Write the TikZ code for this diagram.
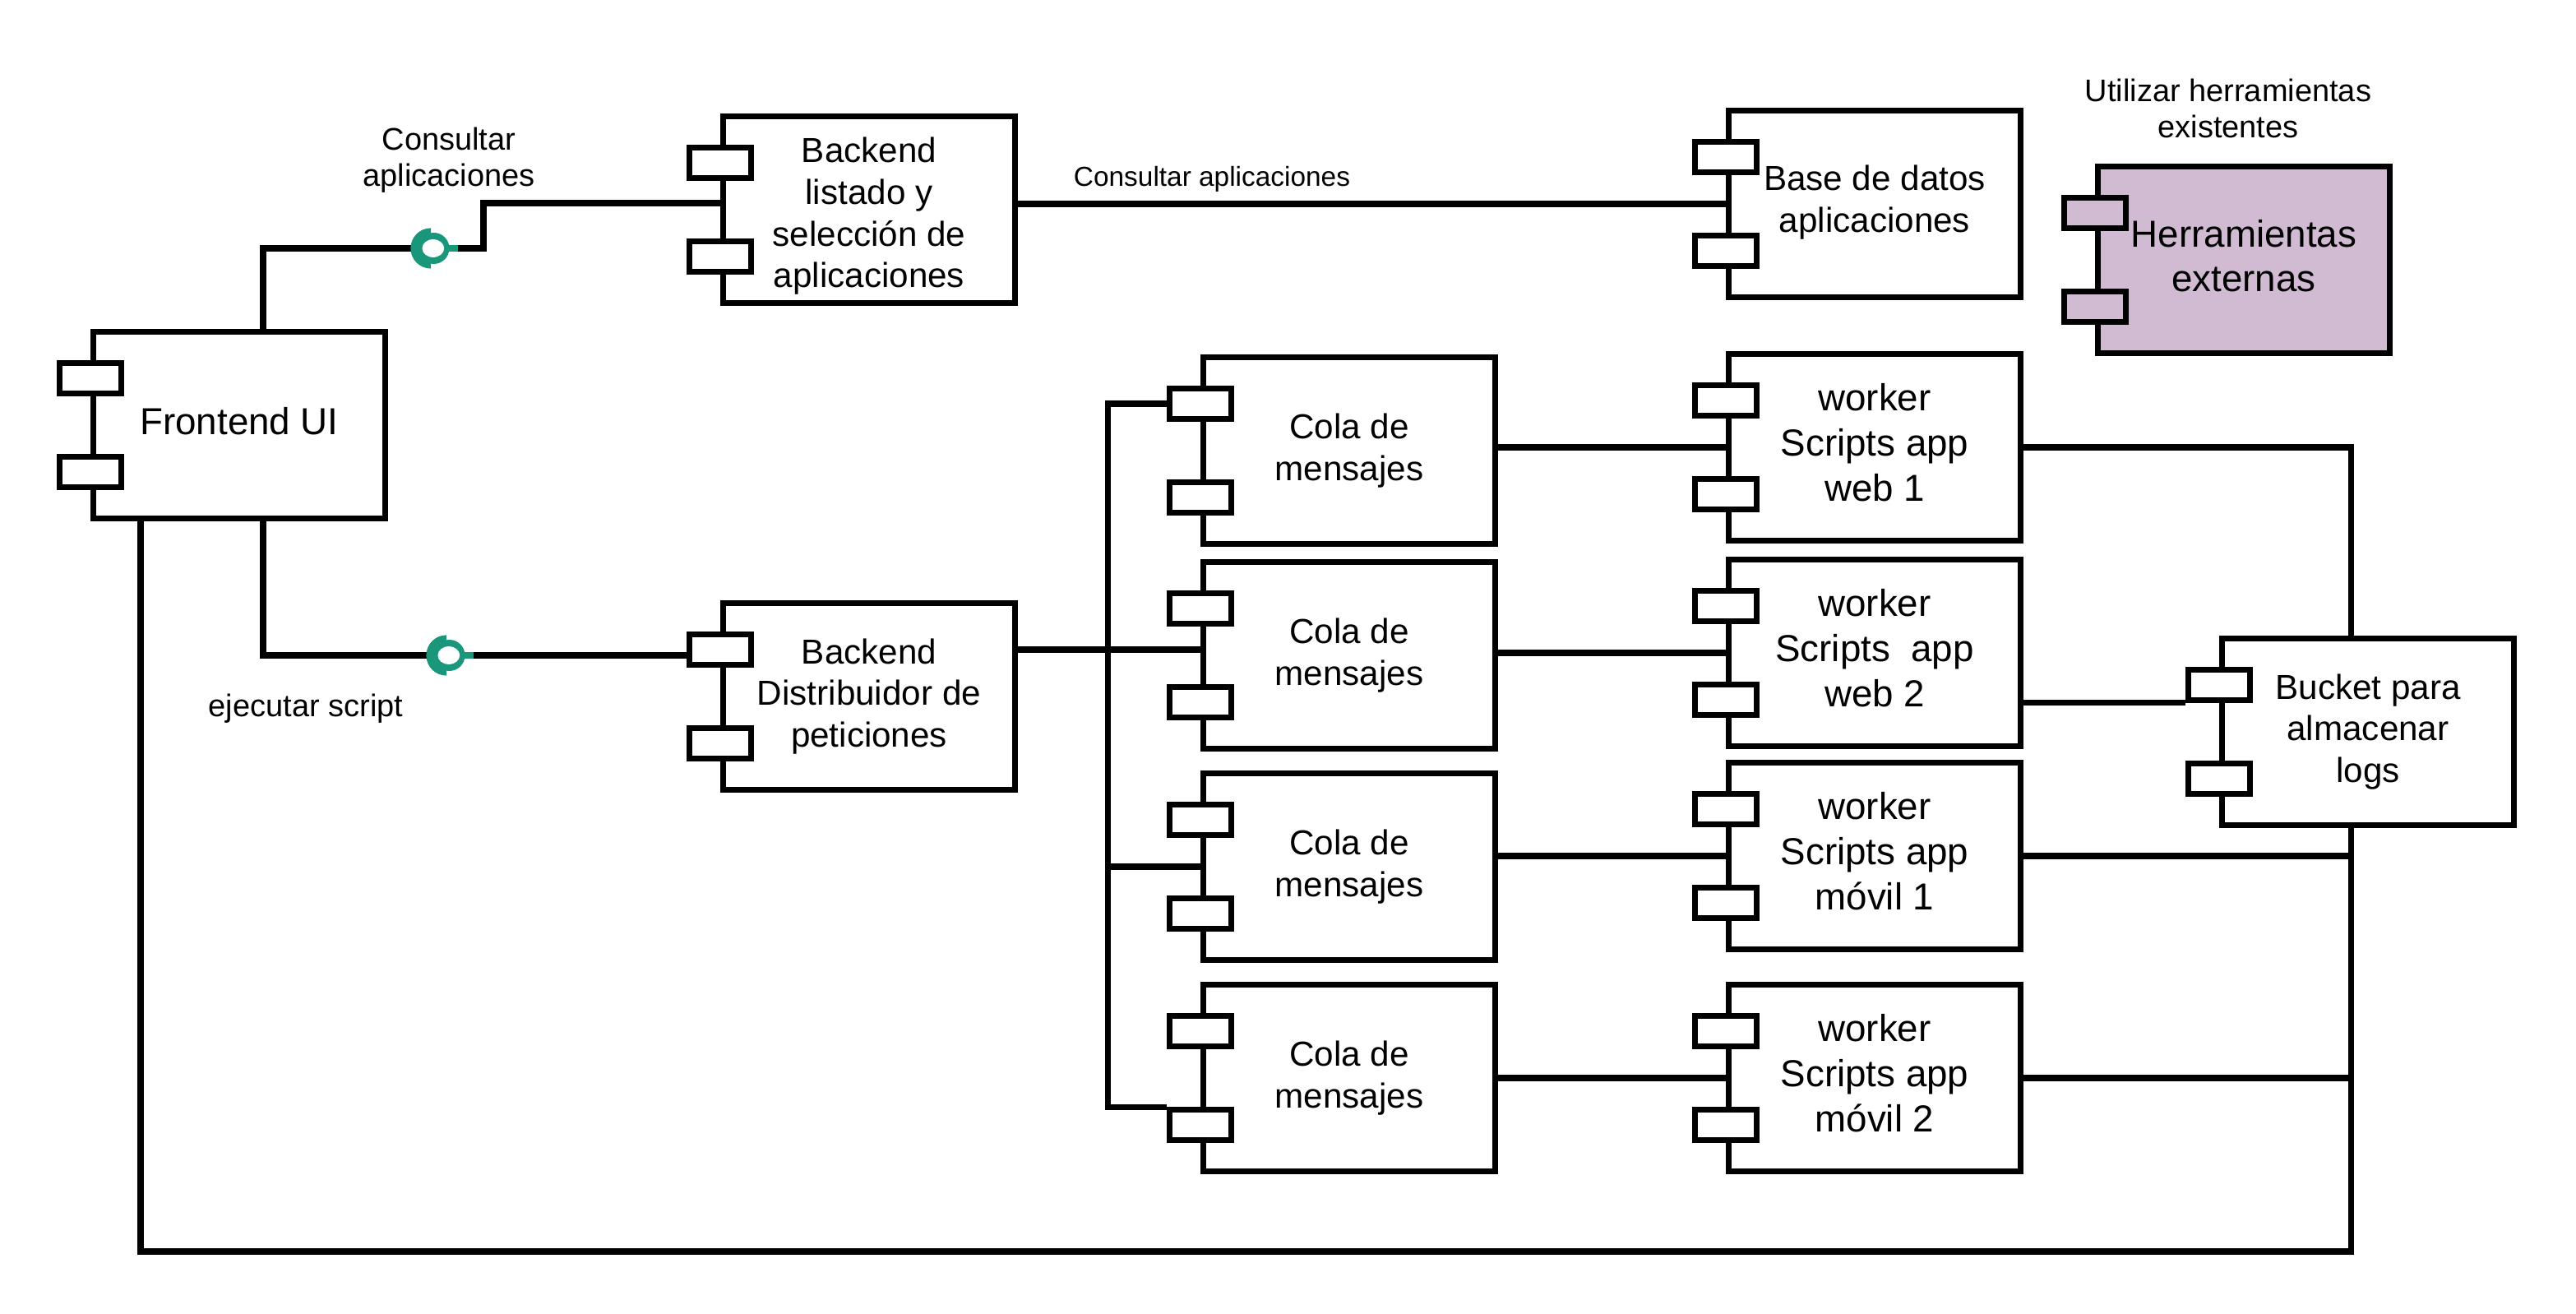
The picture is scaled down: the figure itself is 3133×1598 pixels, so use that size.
\documentclass[tikz,border=0pt]{standalone}
\usepackage{fontspec}
\setmainfont{Liberation Sans}
\usetikzlibrary{calc}

\definecolor{ifacegreen}{RGB}{26,150,122}
\definecolor{toolfill}{RGB}{209,187,210}

\pgfdeclarelayer{wires}
\pgfsetlayers{wires,main}

% text sizes
\newcommand\boxfont{\fontsize{12}{14.4}\selectfont}
\newcommand\workerfont{\fontsize{13}{15.6}\selectfont}
\newcommand\toolfont{\fontsize{13}{15.4}\selectfont}
\newcommand\labelfont{\fontsize{10.8}{12.6}\selectfont}
\newcommand\smallfont{\fontsize{9.5}{11.4}\selectfont}

\tikzset{
  comp/.style={draw, line width=2pt, fill=white, minimum width=101pt,
    minimum height=64.3pt, inner sep=0pt},
  comptext/.style={align=center, inner sep=0pt, font=\boxfont},
  port/.style={draw, line width=2pt, fill=white, minimum width=21.3pt,
    minimum height=10.5pt, inner sep=0pt},
  wire/.style={line width=2pt},
  lbl/.style={align=center, inner sep=0pt, font=\labelfont},
  % ball-and-socket interface symbol
  iface/.pic={
    \fill[ifacegreen] (90:7pt) arc[start angle=90, end angle=270, radius=7pt] -- cycle;
    \fill[ifacegreen] (1pt,0) circle (5.4pt);
    \fill[white] (0.8pt,0) ellipse [x radius=3.8pt, y radius=3.1pt];
    \draw[ifacegreen, line width=2.3pt] (6pt,0) -- (9.4pt,0);
  },
}

% UML component: box with two ports on its left edge and a centred caption
% #1 extra style, #2 name, #3 x, #4 y, #5 caption offset, #6 caption
\newcommand\umlcomp[6][]{%
  \node[comp,#1] (#2) at (#3,#4) {};
  \node[port,#1] (#2-p1) at ($(#2.west)+(0,-57)$) {};
  \node[port,#1] (#2-p2) at ($(#2.west)+(0,57)$) {};
  \node[comptext,#1,draw=none,fill=none] (#2-t) at ($(#2.center)+(0,#5)$) {#6};
}

\begin{document}
\begin{tikzpicture}[x=0.01cm, y=-0.01cm]
\useasboundingbox (0,0) rectangle (3133,1598);

% components
\umlcomp[font=\workerfont]{fe}{291}{517}{-5}{Frontend UI}
\umlcomp{bl}{1057}{255}{8}{Backend\\listado y\\selección de\\aplicaciones}
\umlcomp{db}{2280}{248}{-2}{Base de datos\\aplicaciones}
\umlcomp[fill=toolfill, font=\toolfont]{he}{2729}{316}{-5}{Herramientas\\externas}
\umlcomp{bd}{1057}{847}{0}{Backend\\Distribuidor de\\peticiones}
\umlcomp{c1}{1641}{548}{0}{Cola de\\mensajes}
\umlcomp{c2}{1641}{797}{0}{Cola de\\mensajes}
\umlcomp{c3}{1641}{1054}{0}{Cola de\\mensajes}
\umlcomp{c4}{1641}{1311}{0}{Cola de\\mensajes}
\umlcomp[font=\workerfont]{w1}{2280}{544}{-6}{worker\\Scripts app\\web 1}
\umlcomp[font=\workerfont]{w2}{2280}{794}{-6}{worker\\Scripts\ \ app\\web 2}
\umlcomp[font=\workerfont]{w3}{2280}{1041}{-6}{worker\\Scripts app\\móvil 1}
\umlcomp[font=\workerfont]{w4}{2280}{1311}{-6}{worker\\Scripts app\\móvil 2}
\umlcomp{bk}{2880}{890}{0}{Bucket para\\almacenar\\logs}

% routing points
\coordinate (k1) at (320,302);
\coordinate (l1) at (524,302);
\coordinate (k2) at (588,247);
\coordinate (k3) at (320,797);
\coordinate (l2) at (543,797);
\coordinate (k4) at (171,1522);
\coordinate (k5) at (2859,1522);
\coordinate (bus) at (1347,0);

\begin{pgfonlayer}{wires}
  % frontend -> backend listado
  \draw[wire] (fe.north -| k1) -- (k1) -- (l1) -- (l1 -| k2) -- (k2) -- (bl.west |- k2);
  % frontend -> backend distribuidor
  \draw[wire] (fe.south -| k3) -- (k3) -- (l2) -- (bd-p1.west |- l2);
  % frontend -> bucket (bottom loop)
  \draw[wire] (fe.south -| k4) -- (k4) -- (k5) -- (bk.south -| k5);
  % backend listado -> base de datos
  \draw[wire] (bl.east |- db.west) -- (db.west);
  % distribuidor -> colas
  \draw[wire] (bd.east |- bd-p1) -- (c2.west |- bd-p1);
  \draw[wire] (c1-p1.west) -- (c1-p1.west -| bus) -- (bus |- c4-p2.north west) -- (c4-p2.north west);
  \draw[wire] (bus |- c3.west) -- (c3.west);
  % colas -> workers
  \draw[wire] (c1.east |- w1.west) -- (w1.west);
  \draw[wire] (c2.east |- w2.west) -- (w2.west);
  \draw[wire] (c3.east |- w3.west) -- (w3.west);
  \draw[wire] (c4.east |- w4.west) -- (w4.west);
  % workers -> bucket
  \draw[wire] (w1.east) -- (w1.east -| k5) -- (bk.north -| k5);
  \draw[wire] (w2.east |- bk-p1.south west) -- (bk-p1.south west);
  \draw[wire] (w3.east) -- (w3.east -| k5);
  \draw[wire] (w4.east) -- (w4.east -| k5);
\end{pgfonlayer}

% interface symbols
\pic at (l1) {iface};
\pic at (l2) {iface};

% labels
\node[lbl] (t1) at (546,195) {Consultar\\aplicaciones};
\node[lbl] (t2) at (372,862) {ejecutar script};
\node[lbl, font=\smallfont] (t3) at (1474,218) {Consultar aplicaciones};
\node[lbl] (t4) at (2710,132) {Utilizar herramientas\\existentes};
\end{tikzpicture}
\end{document}
